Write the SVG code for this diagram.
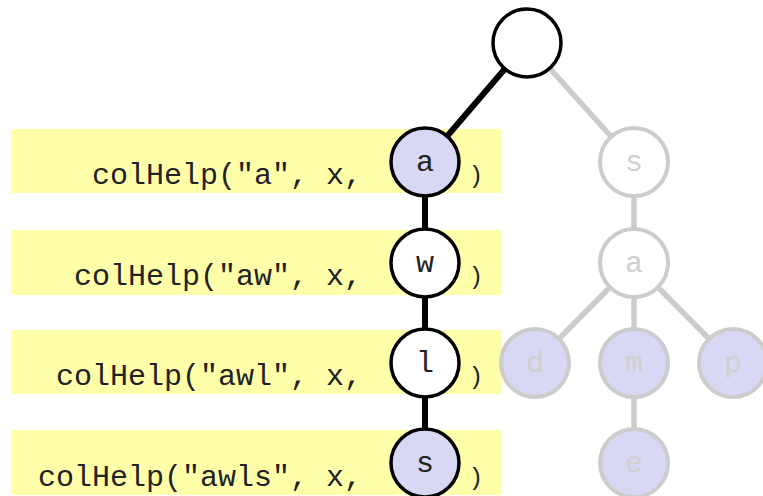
<svg xmlns="http://www.w3.org/2000/svg" width="763" height="496" viewBox="0 0 763 496">
<style>
.band{fill:#ffffaa}
.code{font-family:"Liberation Mono","Courier New",monospace;font-size:30px;fill:#222}
.par{font-family:"Liberation Mono","Courier New",monospace;font-size:24px;fill:#222}
.e{stroke:#000;stroke-width:6;fill:none}
.g{stroke:#cccccc;stroke-width:5.5;fill:none}
.n{stroke:#000;stroke-width:3.5}
.gn{stroke:#cccccc;stroke-width:4}
.lbl{font-family:"Liberation Mono","Courier New",monospace;font-size:30px;text-anchor:middle;fill:#222}
.glbl{font-family:"Liberation Mono","Courier New",monospace;font-size:30px;text-anchor:middle;fill:#d0d0d0}
</style>
<rect width="763" height="496" fill="#fff"/>
<g id="bands">
<rect class="band" x="11" y="129" width="491" height="64"/>
<rect class="band" x="11" y="230" width="491" height="65"/>
<rect class="band" x="11" y="330" width="491" height="64"/>
<rect class="band" x="11" y="430" width="491" height="65"/>
</g>
<g id="code">
<text class="code" x="362" y="184" text-anchor="end">colHelp("a", x,</text>
<text class="code" x="362" y="285" text-anchor="end">colHelp("aw", x,</text>
<text class="code" x="362" y="385" text-anchor="end">colHelp("awl", x,</text>
<text class="code" x="362" y="486" text-anchor="end">colHelp("awls", x,</text>
<text class="par" x="476" y="183" text-anchor="middle">)</text>
<text class="par" x="476" y="284" text-anchor="middle">)</text>
<text class="par" x="476" y="384" text-anchor="middle">)</text>
<text class="par" x="476" y="485" text-anchor="middle">)</text>
</g>
<g id="connectors">
<line class="g" x1="527" y1="43" x2="634" y2="162"/>
<line class="g" x1="634" y1="162" x2="634" y2="263"/>
<line class="g" x1="634" y1="263" x2="535" y2="363"/>
<line class="g" x1="634" y1="263" x2="634" y2="363"/>
<line class="g" x1="634" y1="263" x2="733" y2="363"/>
<line class="g" x1="634" y1="363" x2="634" y2="463"/>
<line class="e" x1="527" y1="43" x2="425" y2="162"/>
<line class="e" x1="425" y1="162" x2="425" y2="463"/>
</g>
<g id="root"><circle class="n" cx="527" cy="43" r="34" fill="#fff"/></g>
<g id="node-a"><circle class="n" cx="425" cy="162" r="34" fill="#d8d8f4"/><text class="lbl" x="425" y="171">a</text></g>
<g id="node-w"><circle class="n" cx="425" cy="263" r="34" fill="#fff"/><text class="lbl" x="425" y="272">w</text></g>
<g id="node-l"><circle class="n" cx="425" cy="363" r="34" fill="#fff"/><text class="lbl" x="425" y="372">l</text></g>
<g id="node-s"><circle class="n" cx="425" cy="463" r="34" fill="#d8d8f4"/><text class="lbl" x="425" y="472">s</text></g>
<g id="gnode-s"><circle class="gn" cx="634" cy="162" r="34" fill="#fff"/><text class="glbl" x="634" y="171">s</text></g>
<g id="gnode-a"><circle class="gn" cx="634" cy="263" r="34" fill="#fff"/><text class="glbl" x="634" y="272">a</text></g>
<g id="gnode-d"><circle class="gn" cx="535" cy="363" r="34" fill="#d8d8f4"/><text class="glbl" x="535" y="372">d</text></g>
<g id="gnode-m"><circle class="gn" cx="634" cy="363" r="34" fill="#d8d8f4"/><text class="glbl" x="634" y="372">m</text></g>
<g id="gnode-p"><circle class="gn" cx="733" cy="363" r="34" fill="#d8d8f4"/><text class="glbl" x="733" y="372">p</text></g>
<g id="gnode-e"><circle class="gn" cx="634" cy="463" r="34" fill="#d8d8f4"/><text class="glbl" x="634" y="472">e</text></g>
</svg>
